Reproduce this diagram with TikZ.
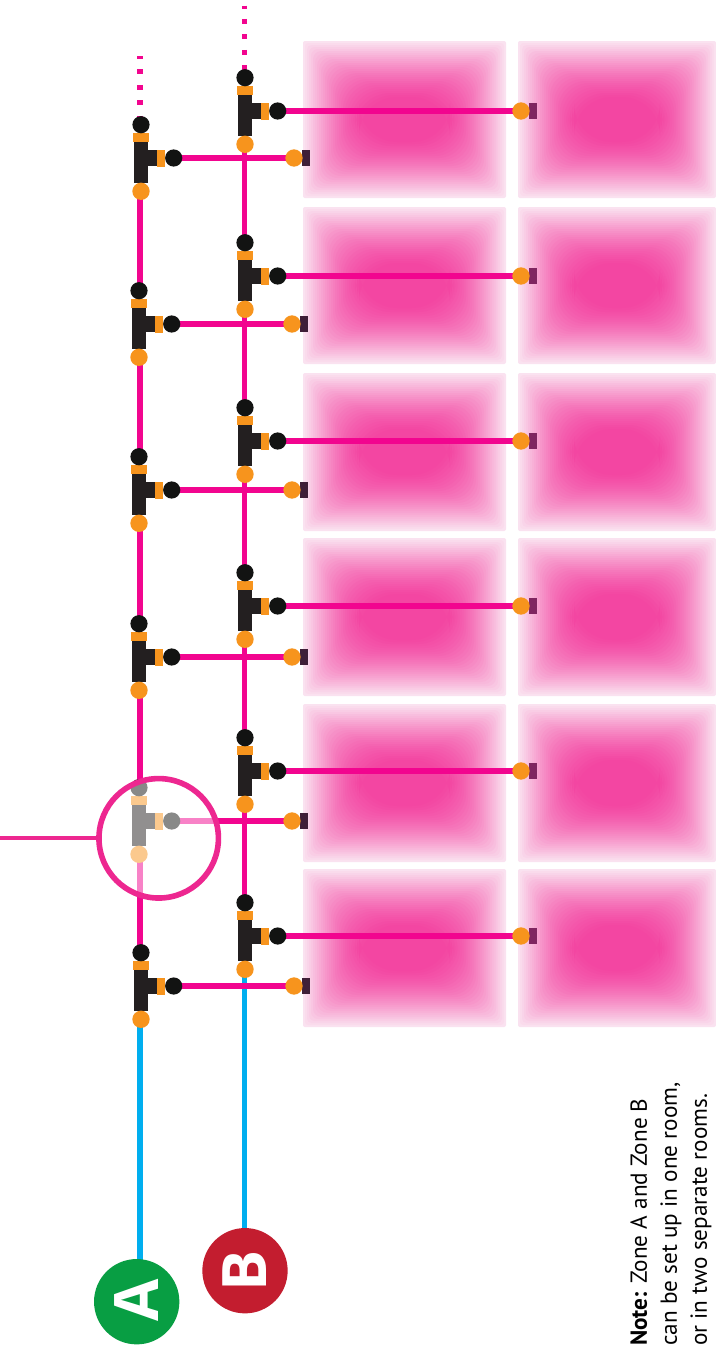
\documentclass[tikz,border=0pt]{standalone}
\usepackage{fontspec}
\setmainfont{Open Sans}
\newfontfamily\notefont{PT Sans}
\definecolor{pipepink}{HTML}{F2058F}
\definecolor{ringpink}{HTML}{ED2790}
\definecolor{pipeblue}{HTML}{00AEEF}
\definecolor{fitorange}{HTML}{F7941D}
\definecolor{fitblack}{HTML}{231F20}
\definecolor{capblack}{HTML}{121312}
\definecolor{panelhi}{HTML}{F346A2}
\definecolor{panello}{HTML}{FAE2F0}
\definecolor{zonegreen}{HTML}{089E43}
\definecolor{zonered}{HTML}{C31D2F}
\definecolor{enddarkA}{HTML}{3F1F38}
\definecolor{enddarkB}{HTML}{7F2560}
\pgfdeclarelayer{back}
\pgfdeclarelayer{lens}
\pgfsetlayers{back,main,lens}
\tikzset{
  x=0.75pt,y=-0.75pt,
  capdot/.style={circle,fill=capblack,inner sep=0,minimum size=12.9pt},
  orangedot/.style={circle,fill=fitorange,inner sep=0,minimum size=13pt},
  pinkpipe/.style={draw=pipepink,line width=4pt},
  bluepipe/.style={draw=pipeblue,line width=4pt},
  zonecirc/.style={circle,inner sep=0,minimum size=64pt,text=white,font=\fontsize{46}{46}\selectfont\bfseries,rotate=90},
}
% name, x, y
\newcommand{\teeunit}[3]{
  \fill[fitblack] ({#2-7.3},{#3-16}) rectangle ({#2+7.3},{#3+24.7});
  \fill[fitblack] ({#2+7},{#3-7.7}) rectangle ({#2+17},{#3+7.7});
  \fill[fitorange] ({#2-8},{#3-25}) rectangle ({#2+8},{#3-16});
  \fill[fitorange] ({#2+16},{#3-8}) rectangle ({#2+24},{#3+8.5});
  \node[capdot] (#1t) at (#2,{#3-33.3}) {};
  \node[capdot] (#1r) at ({#2+32.7},#3) {};
  \node[orangedot] (#1b) at (#2,{#3+33.3}) {};
}
% name, x, y, colour
\newcommand{\termunit}[4]{
  \fill[#4] ({#2+8.3},{#3-8.3}) rectangle ({#2+16.3},{#3+8.3});
  \node[orangedot] (#1) at (#2,#3) {};
}
% x0 y0 x1 y1
\newcommand{\panelblur}[4]{
  \foreach \i in {0,...,28}{
    \pgfmathsetmacro{\ins}{\i*2}
    \pgfmathsetmacro{\mixp}{min(100,50*sin(90*\i/28)+50*\i/28)}
    \pgfmathsetmacro{\rad}{0.75*(2+\i*1.3)}
    \fill[panelhi!\mixp!panello,rounded corners=\rad pt]
      ({#1+\ins},{#2+\ins}) rectangle ({#3-\ins},{#4-\ins});
  }
}
\begin{document}
\begin{tikzpicture}
\useasboundingbox (0,0) rectangle (716,1346);
\begin{pgfonlayer}{back}
\fill[white] (0,0) rectangle (716,1346);
\foreach \ya/\yb in {41/198,207/364,373/531,538/696,704/862,869/1027}{
  \panelblur{303}{\ya}{506}{\yb}
  \panelblur{518}{\ya}{716}{\yb}
}
\end{pgfonlayer}

% zone A tees
\teeunit{aF}{141}{986}
\teeunit{aD}{139}{657}
\teeunit{aC}{139}{490}
\teeunit{aB}{139}{324}
\teeunit{aA}{141}{158}
% zone B tees
\foreach \n/\yy in {bF/936,bE/771,bD/606,bC/441,bB/276,bA/111}{
  \teeunit{\n}{245}{\yy}
  \termunit{\n e}{521}{\yy}{enddarkB}
}
\termunit{aFe}{294}{986}{enddarkA}
\termunit{aEe}{292}{821}{enddarkA}
\termunit{aDe}{292}{657}{enddarkA}
\termunit{aCe}{292}{490}{enddarkA}
\termunit{aBe}{292}{324}{enddarkA}
\termunit{aAe}{294}{158}{enddarkA}

\node[zonecirc,fill=zonegreen] (zoneA) at (136.7,1301.7) {\hspace*{2.5pt}A};
\node[zonecirc,fill=zonered] (zoneB) at (245,1270.7) {B};

\coordinate (pa) at (140,0);
\coordinate (pb) at (244.5,0);
\coordinate (dotA) at (140,56);
\coordinate (dotB) at (244.5,5.5);
\coordinate (lead) at (0,838.3);

\node[rotate=90,anchor=north west,inner sep=0,align=left,font=\notefont\fontsize{17.4}{22.5}\selectfont] (note) at (630,1346)
  {\textbf{Note:} Zone A and Zone B\\can be set up in one room,\\or in two separate rooms.};

% lens section
\begin{pgfonlayer}{lens}
\teeunit{aE}{139}{821}
\node[circle,draw=ringpink,line width=4.2pt,fill=white,fill opacity=.5,draw opacity=1,minimum size=89.6pt,inner sep=0] (ring) at (158.7,838.3) {};
\draw[draw=ringpink,line width=2.8pt] (lead) -- (ring.west);
\end{pgfonlayer}

\begin{pgfonlayer}{back}
\draw[bluepipe] (aFb.center -| pa) -- (zoneA.center -| pa);
\draw[bluepipe] (bFb.center -| pb) -- (zoneB.center -| pb);
\foreach \l/\u in {aF/aE,aE/aD,aD/aC,aC/aB,aB/aA}{
  \draw[pinkpipe] (\l t.center -| pa) -- (\u b.center -| pa);
}
\foreach \l/\u in {bF/bE,bE/bD,bD/bC,bC/bB,bB/bA}{
  \draw[pinkpipe] (\l t.center -| pb) -- (\u b.center -| pb);
}
\foreach \n in {aA,aB,aC,aD,aE,aF,bA,bB,bC,bD,bE,bF}{
  \draw[pinkpipe] (\n r.center) -- (\n e.center);
}
\draw[pinkpipe,dash pattern=on 3.75pt off 7.85pt,dash phase=1.5pt] (dotA) -- (aAt.center -| pa);
\draw[pinkpipe,dash pattern=on 3.75pt off 7.85pt,dash phase=1.5pt] (dotB) -- (bAt.center -| pb);
\end{pgfonlayer}
\end{tikzpicture}
\end{document}
